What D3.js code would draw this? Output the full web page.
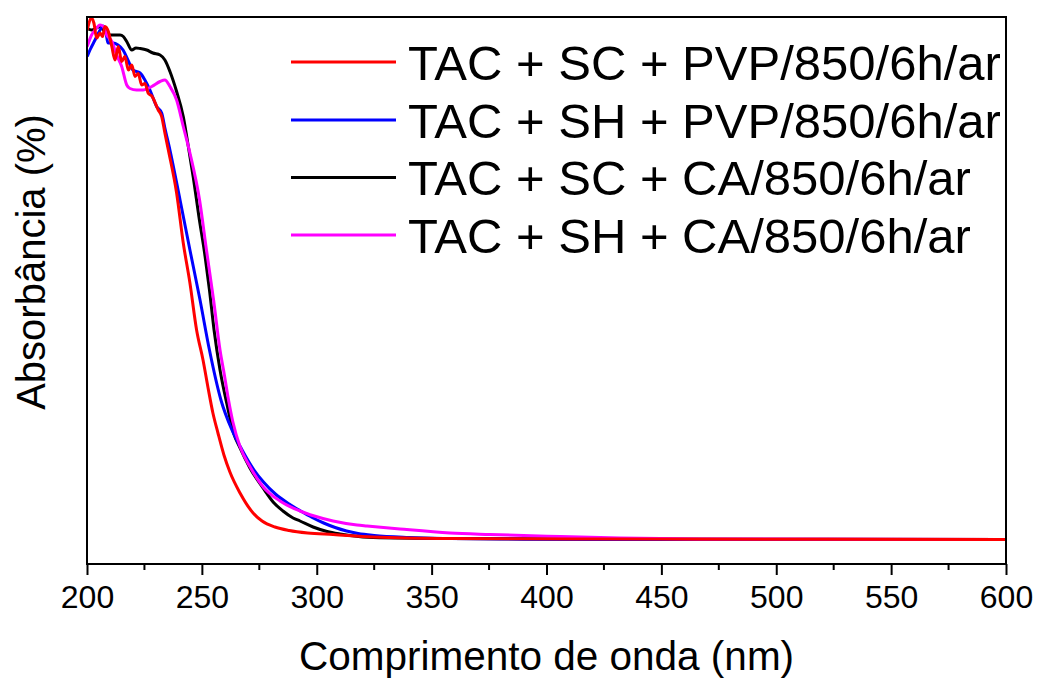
<!DOCTYPE html>
<html>
<head>
<meta charset="utf-8">
<script src="https://cdn.jsdelivr.net/npm/d3@7"></script>
<style>
  html, body { margin: 0; padding: 0; background: #fff; }
  svg { display: block; font-family: "Liberation Sans", Arial, sans-serif; }
</style>
</head>
<body>
<svg id="chart" width="1037" height="678"></svg>
<script>
// UV-Vis absorbance spectra, wavelength (nm) vs absorbance (a.u., shown as %)
const seriesNames = [
  "TAC + SC + PVP/850/6h/ar",
  "TAC + SH + PVP/850/6h/ar",
  "TAC + SC + CA/850/6h/ar",
  "TAC + SH + CA/850/6h/ar"
];
const seriesColors = ["#ff0000", "#0000ff", "#000000", "#ff00ff"];

const xTickValues = [200, 250, 300, 350, 400, 450, 500, 550, 600];

// [wavelength, absorbance]
const scPvp = [
  [200.1,106.8],[202.0,109.2],[203.0,108.2],[204.2,105.2],[205.7,106.2],[206.8,105.5],
  [207.8,107.5],[209.3,106.5],[210.8,103.5],[212.2,100.8],[213.6,103.5],[215.1,100.5],
  [216.5,101.5],[218.0,98.8],[219.5,99.8],[220.9,97.5],[222.3,98.1],[223.8,95.8],
  [225.2,96.1],[226.7,94.1],[228.2,93.6],[231.0,90.8],[232.5,89.5],[233.9,86.2],
  [235.4,82.8],[239.0,74.2],[241.9,64.2],[244.8,56.2],[247.7,46.8],[250.5,40.8],
  [252.7,35.2],[254.8,30.2],[257.0,26.2],[259.6,21.8],[262.2,18.4],[266.6,14.2],
  [272.3,10.2],[276.2,8.6],[281.8,7.4],[288.0,6.7],[296.0,6.2],[307.1,5.9],
  [324.5,5.4],[358.0,5.1],[423.3,5.0],[600.0,4.9]
];
const shPvp = [
  [200.1,101.5],[201.3,102.8],[203.5,104.8],[205.7,106.8],[207.0,107.6],[208.3,106.2],
  [209.1,104.2],[211.4,104.2],[213.5,103.8],[215.7,102.8],[217.8,100.8],[220.0,98.8],
  [223.1,98.2],[225.2,96.8],[227.4,94.8],[230.3,91.5],[232.5,90.2],[233.9,87.2],
  [236.1,82.8],[240.5,72.8],[244.8,62.8],[249.2,52.8],[253.3,42.8],[258.3,32.8],
  [263.1,26.8],[267.5,22.8],[272.7,18.8],[277.0,16.3],[282.0,14.0],[288.0,12.0],
  [293.0,10.6],[298.0,9.3],[303.0,8.2],[308.0,7.3],[313.0,6.6],[318.0,6.1],
  [325.0,5.7],[340.0,5.3],[358.0,5.1],[380.0,5.0],[420.0,4.9],[600.0,4.9]
];
const scCa = [
  [200.1,107.1],[202.0,106.8],[205.7,107.5],[207.8,106.4],[210.0,105.8],[214.4,105.8],
  [215.8,105.5],[217.4,104.4],[219.5,102.8],[221.3,103.2],[223.1,103.1],[226.0,102.8],
  [228.7,102.2],[231.8,101.8],[233.9,100.8],[236.1,98.5],[239.0,94.5],[241.9,89.5],
  [244.1,83.5],[246.3,77.2],[248.7,69.5],[251.4,61.5],[253.3,54.8],[255.3,46.8],
  [257.9,38.8],[260.8,32.2],[263.8,26.2],[266.6,23.2],[270.9,19.2],[276.6,15.2],
  [281.0,12.4],[285.3,10.6],[289.7,9.2],[292.7,8.6],[298.4,7.4],[304.5,6.5],
  [310.1,6.0],[314.5,5.7],[324.5,5.3],[358.0,5.1],[423.3,5.0],[600.0,4.9]
];
const shCa = [
  [200.1,103.5],[202.0,105.8],[203.5,106.8],[205.7,107.8],[207.1,107.5],[208.6,105.8],
  [210.8,104.5],[212.9,101.8],[215.1,99.5],[217.3,95.8],[218.7,95.1],[221.6,94.8],
  [224.5,94.8],[228.2,95.5],[231.8,96.5],[233.9,96.8],[236.1,95.5],[239.0,92.8],
  [241.9,87.5],[244.8,82.2],[249.0,72.8],[252.0,62.8],[255.1,52.8],[257.9,42.8],
  [259.8,37.8],[261.6,32.8],[263.5,28.4],[266.6,23.5],[270.9,19.5],[276.7,15.4],
  [284.0,12.6],[292.7,10.6],[302.7,9.1],[307.1,8.6],[317.5,7.8],[321.9,7.6],
  [336.2,7.0],[358.0,6.2],[375.4,5.9],[405.9,5.5],[432.0,5.2],[466.8,5.0],[600.0,4.9]
];

const seriesData = [scPvp, shPvp, scCa, shCa];
// drawing order (back to front)
const drawOrder = [2, 1, 3, 0];

const svg = d3.select("#chart");
const margin = { left: 87, right: 1037 - 1006, top: 17, bottom: 678 - 564 };
const W = 1037, H = 678;

const x = d3.scaleLinear().domain([200, 600]).range([margin.left, W - margin.right]);
const y = d3.scaleLinear().domain([0, 109.4]).range([H - margin.bottom, margin.top]);

const clipId = "plot-clip";
svg.append("clipPath").attr("id", clipId)
  .append("rect")
  .attr("x", x(200)).attr("y", y(109.4))
  .attr("width", x(600) - x(200)).attr("height", y(0) - y(109.4));

const line = d3.line()
  .x(d => x(d[0]))
  .y(d => y(d[1]))
  .curve(d3.curveMonotoneX);

const plot = svg.append("g").attr("clip-path", `url(#${clipId})`);
drawOrder.forEach(i => {
  plot.append("path")
    .datum(seriesData[i])
    .attr("fill", "none")
    .attr("stroke", seriesColors[i])
    .attr("stroke-width", 3)
    .attr("stroke-linejoin", "round")
    .attr("d", line);
});

// frame
svg.append("rect")
  .attr("x", x(200)).attr("y", y(109.4))
  .attr("width", x(600) - x(200)).attr("height", y(0) - y(109.4))
  .attr("fill", "none").attr("stroke", "#000").attr("stroke-width", 2);

// bottom axis: major ticks with labels, minor ticks between
const xAxis = d3.axisBottom(x)
  .tickValues(xTickValues)
  .tickSize(11)
  .tickPadding(10)
  .tickFormat(d3.format("d"));
const gx = svg.append("g")
  .attr("transform", `translate(0,${y(0)})`)
  .call(xAxis);
gx.select(".domain").remove();
gx.selectAll(".tick line").attr("stroke", "#000").attr("stroke-width", 2);
gx.selectAll(".tick text")
  .attr("fill", "#000")
  .style("font-size", "32px")
  .style("font-family", "'Liberation Sans', Arial, sans-serif");

const minorTicks = d3.range(225, 600, 50);
svg.append("g").selectAll("line")
  .data(minorTicks)
  .join("line")
  .attr("x1", d => x(d)).attr("x2", d => x(d))
  .attr("y1", y(0)).attr("y2", y(0) + 6)
  .attr("stroke", "#000").attr("stroke-width", 2);

// axis titles
svg.append("text")
  .attr("x", (x(200) + x(600)) / 2)
  .attr("y", 670)
  .attr("text-anchor", "middle")
  .style("font-size", "40.5px")
  .text("Comprimento de onda (nm)");

svg.append("text")
  .attr("transform", "translate(45,262) rotate(-90)")
  .attr("text-anchor", "middle")
  .style("font-size", "40px")
  .text("Absorbância (%)");

// legend
const legendRowY = [62, 120, 177.5, 235];
const legend = svg.append("g");
seriesNames.forEach((name, i) => {
  const g = legend.append("g").attr("transform", `translate(0,${legendRowY[i]})`);
  g.append("line")
    .attr("x1", 291).attr("x2", 396)
    .attr("y1", 0).attr("y2", 0)
    .attr("stroke", seriesColors[i]).attr("stroke-width", 3);
  g.append("text")
    .attr("x", 408).attr("y", 0)
    .attr("dy", "0.36em")
    .style("font-size", "49px")
    .text(name);
});
</script>
</body>
</html>
